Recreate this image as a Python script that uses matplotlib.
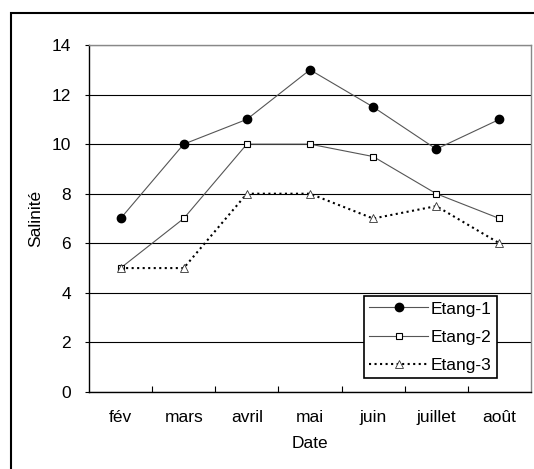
import matplotlib
matplotlib.use('Agg')
import matplotlib.pyplot as plt
from matplotlib.patches import Rectangle

plt.rcParams['font.family'] = ['Liberation Sans', 'DejaVu Sans']
plt.rcParams['font.size'] = 12.5

mois = ['fév', 'mars', 'avril', 'mai', 'juin', 'juillet', 'août']
etang1 = [7, 10, 11, 13, 11.5, 9.8, 11]
etang2 = [5, 7, 10, 10, 9.5, 8, 7]
etang3 = [5, 5, 8, 8, 7, 7.5, 6]

fig = plt.figure(figsize=(5.34, 4.69), dpi=100)
ax = fig.add_axes([89/534, 77/469, 442/534, 347/469])

# outer chart frame
fig.patches.append(Rectangle((11/534, -0.1), 1.2, (469-13)/469 + 0.1,
                             transform=fig.transFigure, fill=False,
                             edgecolor='black', linewidth=1.5, zorder=0))

x = range(len(mois))
ax.plot(x, etang1, '-', color='#555555', lw=0.8, marker='o', ms=6,
        mfc='black', mec='black', label='Etang-1')
ax.plot(x, etang2, '-', color='#555555', lw=0.8, marker='s', ms=5,
        mfc='white', mec='black', mew=0.8, label='Etang-2')
ax.plot(x, etang3, ':', color='black', lw=1.5, marker='^', ms=6,
        mfc='white', mec='#333333', mew=0.6, label='Etang-3')

ax.set_xlim(-0.5, len(mois) - 0.5)
ax.set_ylim(0, 14)
ax.set_yticks(range(0, 15, 2))
ax.set_xticks(list(x))
ax.set_xticklabels(mois)
ax.set_xticks([i + 0.5 for i in range(len(mois) - 1)], minor=True)
ax.tick_params(axis='x', which='major', length=0, pad=13)
ax.tick_params(axis='x', which='minor', direction='in', length=4, width=0.8)
ax.tick_params(axis='y', length=3, width=0.8, pad=10)
ax.yaxis.grid(True, color='black', lw=0.8)
ax.set_axisbelow(True)

for side in ['left', 'bottom']:
    ax.spines[side].set_color('black')
    ax.spines[side].set_linewidth(1)
for side in ['top', 'right']:
    ax.spines[side].set_color('#888888')
    ax.spines[side].set_linewidth(1)

ax.set_xlabel('Date', labelpad=8)
ax.set_ylabel('Salinité', labelpad=6)

leg = ax.legend(loc='lower right', bbox_to_anchor=(0.923, 0.04), borderaxespad=0,
                fancybox=False, framealpha=1, edgecolor='black', handlelength=3.4,
                labelspacing=0.75, borderpad=0.3, handletextpad=0.15)
leg.get_frame().set_linewidth(1.2)

fig.savefig('out.png', dpi=100)
